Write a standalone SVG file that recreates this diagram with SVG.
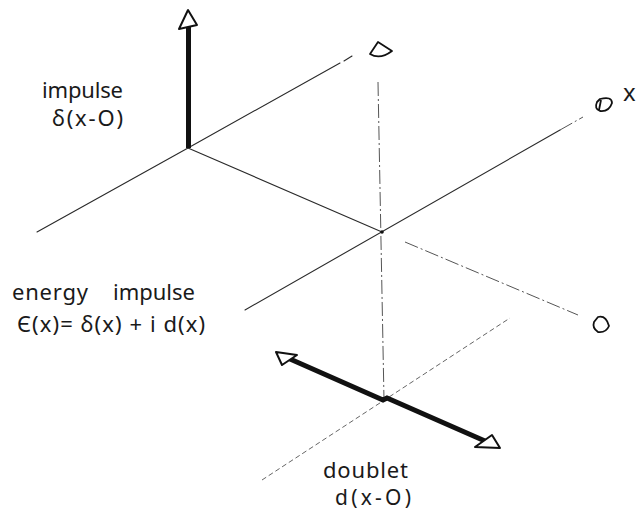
<svg xmlns="http://www.w3.org/2000/svg" width="643" height="512" viewBox="0 0 643 512">
<style>
.ax{stroke:#2a2a2a;stroke-width:1.1;fill:none;stroke-linecap:round}
.dd{stroke:#555;stroke-width:1;fill:none;stroke-dasharray:14 3 2 3}
.ds{stroke:#666;stroke-width:1;fill:none;stroke-dasharray:5 3}
.thick{stroke:#111;stroke-width:5;fill:none}
.head{fill:#fff;stroke:#111;stroke-width:2;stroke-linejoin:round}
.mk{fill:none;stroke:#111;stroke-width:1.8;stroke-linejoin:round}
text{font-family:"Noto Sans","DejaVu Sans",sans-serif;font-size:22px;fill:#1a1a1a}
</style>
<rect width="643" height="512" fill="#fff"/>
<g id="connectors">
<line class="ax" x1="37" y1="232" x2="188" y2="148"/>
<line class="ax" x1="188" y1="148" x2="340" y2="63"/>
<line class="ax" x1="344" y1="61" x2="352" y2="56"/>
<line class="ax" x1="188" y1="148" x2="382" y2="232"/>
<line class="dd" x1="405" y1="242" x2="578" y2="315"/>
<line class="ax" x1="245" y1="310" x2="560" y2="130"/>
<line class="dd" x1="560" y1="130" x2="583" y2="117"/>
<line class="dd" x1="378" y1="82" x2="384" y2="400"/>
<line class="ds" x1="262" y1="480" x2="510" y2="318"/>
<circle cx="382" cy="232" r="1.8" fill="#111"/>
</g>
<g id="impulse-arrow">
<line class="thick" x1="188.5" y1="148" x2="188.5" y2="26"/>
<polygon class="head" points="188,10 179,29 197,25"/>
</g>
<g id="doublet-arrow">
<polyline class="thick" points="290,359 383,400 387,398 485,441"/>
<polygon class="head" points="276,352 282,365 297,355"/>
<polygon class="head" points="500,448 475,447 492,435"/>
</g>
<g id="markers">
<path class="mk" d="M378,42 L370,54 Q380,60 392,51 Z"/>
<path class="mk" d="M600,99 Q612,96 612,103 Q609,112 600,111 Q594,109 597,102 Z M601,100 L599,110"/>
<path class="mk" d="M598,317 Q606,315 609,326 Q606,333 598,332 Q592,328 594,322 Z"/>
</g>
<g id="label-impulse">
<text x="42" y="98" textLength="81">impulse</text>
<text x="52" y="126" textLength="71">δ(x-O)</text>
</g>
<g id="label-energy">
<text x="12" y="300" textLength="76">energy</text>
<text x="113" y="300" textLength="82">impulse</text>
<text x="17" y="332" textLength="188">Є(x)= δ(x) + i d(x)</text>
</g>
<g id="label-doublet">
<text x="323" y="478" textLength="85">doublet</text>
<text x="335" y="505" textLength="76" style="font-size:21px">d(x-O)</text>
</g>
<g id="label-x">
<text x="623" y="101" style="font-size:24px">x</text>
</g>
</svg>
